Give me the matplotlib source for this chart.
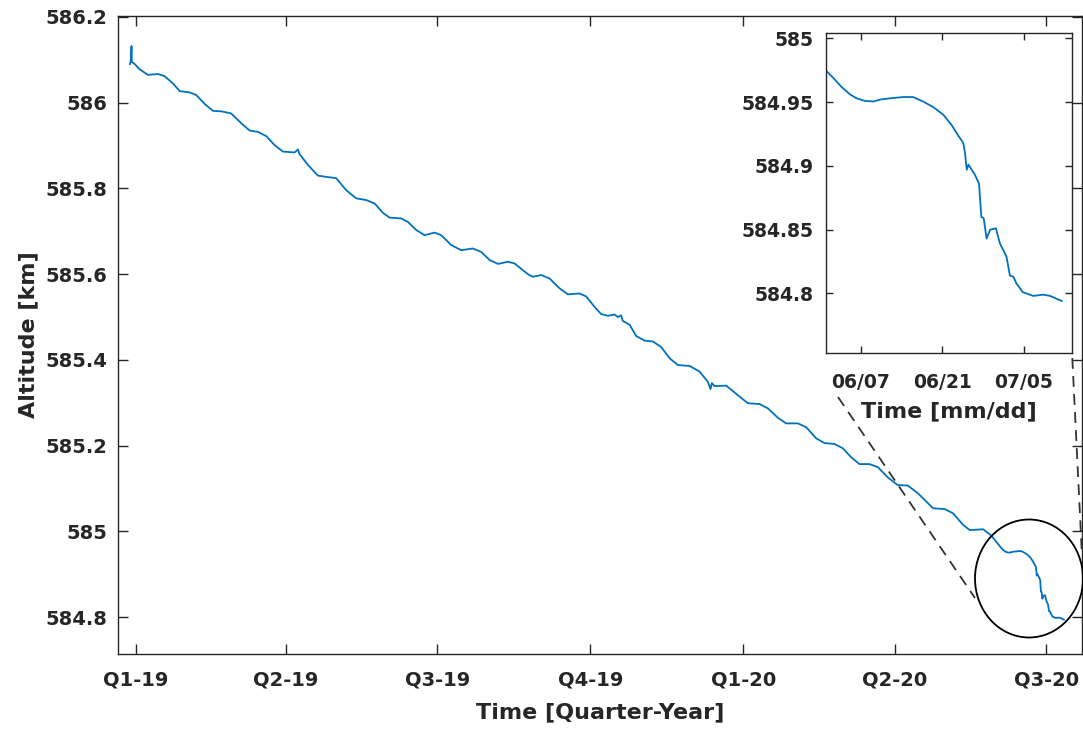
import numpy as np
import matplotlib
matplotlib.use("Agg")
import matplotlib.pyplot as plt
from matplotlib.patches import Ellipse
from matplotlib.lines import Line2D

# Orbit altitude history: days since 2019-01-01 and altitude in km
days = [
    -3.6, -3.0, -2.7, -2.5, -1.2, 2.2, 7.2, 13.2, 17.2, 22.2,
    26.3, 32.3, 36.2, 41.3, 46.3, 51.2, 57.2, 63.3, 68.3, 73.3,
    78.3, 83.3, 88.3, 95.3, 97.3, 98.3, 103.3, 109.3, 114.3, 120.3,
    126.3, 132.3, 138.3, 143.4, 148.4, 152.4, 159.4, 163.4, 168.4, 173.4,
    179.4, 183.4, 189.4, 195.4, 202.4, 207.4, 212.5, 217.5, 223.5, 227.5,
    235.5, 238.5, 243.5, 248.5, 254.5, 259.5, 266.5, 270.5, 275.5, 279.5,
    283.5, 287.6, 289.5, 291.5, 292.5, 296.6, 300.5, 305.6, 310.6, 315.6,
    320.6, 325.6, 332.6, 338.6, 343.6, 345.2, 346.0, 347.6, 354.6, 361.6,
    367.6, 374.7, 379.7, 385.7, 390.6, 397.7, 402.7, 408.7, 413.7, 419.7,
    424.7, 429.7, 434.7, 440.7, 445.7, 451.7, 457.7, 463.7, 469.8, 475.8,
    478.9, 486.0, 491.0, 497.0, 501.0, 509.0, 514.0,
    517.2, 518.3, 519.7, 521.2, 522.3, 523.7, 525.2, 526.3, 528.0, 530.3,
    532.0, 533.7, 535.5, 537.2, 538.6, 539.7, 540.6, 540.9, 541.2, 541.5,
    541.9, 542.6, 543.3, 543.5, 543.7, 544.1, 544.6, 545.2, 546.2, 546.9,
    548.0, 548.6, 549.2, 549.7, 550.8, 552.6, 554.3, 555.5, 557.5,
]
altitude_km = [
    586.090, 586.100, 586.132, 586.095, 586.092, 586.078, 586.065, 586.067, 586.062, 586.045,
    586.027, 586.024, 586.018, 585.997, 585.981, 585.980, 585.975, 585.952, 585.935, 585.932,
    585.922, 585.901, 585.886, 585.884, 585.891, 585.880, 585.855, 585.830, 585.827, 585.824,
    585.796, 585.777, 585.773, 585.765, 585.743, 585.732, 585.730, 585.722, 585.703, 585.691,
    585.697, 585.691, 585.668, 585.656, 585.660, 585.652, 585.633, 585.624, 585.629, 585.625,
    585.600, 585.594, 585.598, 585.590, 585.567, 585.553, 585.555, 585.548, 585.524, 585.507,
    585.503, 585.506, 585.500, 585.504, 585.491, 585.482, 585.456, 585.445, 585.443, 585.430,
    585.404, 585.388, 585.386, 585.373, 585.349, 585.332, 585.346, 585.339, 585.340, 585.318,
    585.299, 585.297, 585.287, 585.265, 585.252, 585.252, 585.243, 585.217, 585.206, 585.204,
    585.194, 585.173, 585.157, 585.157, 585.150, 585.126, 585.108, 585.107, 585.089, 585.066,
    585.054, 585.052, 585.042, 585.015, 585.003, 585.005, 584.990,
    584.974, 584.969, 584.962, 584.956, 584.953, 584.951, 584.9505, 584.952, 584.953, 584.954,
    584.954, 584.9505, 584.946, 584.940, 584.932, 584.924, 584.918, 584.910, 584.897, 584.901,
    584.898, 584.893, 584.886, 584.873, 584.860, 584.859, 584.843, 584.850, 584.851, 584.839,
    584.829, 584.814, 584.813, 584.808, 584.801, 584.798, 584.799, 584.798, 584.794,
]

quarter_ticks = ["2019-01-01", "2019-04-01", "2019-07-01", "2019-10-01",
                 "2020-01-01", "2020-04-01", "2020-07-01"]
quarter_labels = ["Q1-19", "Q2-19", "Q3-19", "Q4-19", "Q1-20", "Q2-20", "Q3-20"]
main_yticks = [584.8, 585.0, 585.2, 585.4, 585.6, 585.8, 586.0, 586.2]
main_ylabels = ["584.8", "585", "585.2", "585.4", "585.6", "585.8", "586", "586.2"]

zoom_ticks = ["2020-06-07", "2020-06-21", "2020-07-05"]
zoom_labels = ["06/07", "06/21", "07/05"]
zoom_yticks = [584.80, 584.85, 584.90, 584.95, 585.00]
zoom_ylabels = ["584.8", "584.85", "584.9", "584.95", "585"]

base = np.datetime64("2019-01-01T00:00")
t = base + (np.array(days) * 24 * 60).round().astype("timedelta64[m]")
alt = np.array(altitude_km)

def day(s, offset_days=0.0):
    return np.datetime64(s + "T00:00") + np.timedelta64(int(round(offset_days * 1440)), "m")

LINE = "#0072BD"
INK = "#262626"
FONT = "DejaVu Sans"

plt.rcParams["font.family"] = FONT
plt.rcParams["font.weight"] = "bold"

fig = plt.figure(figsize=(10.83, 7.29), dpi=100)
ax = fig.add_axes([118 / 1083, 1 - 654 / 729, (1082 - 118) / 1083, (654 - 15.7) / 729])
ax.plot(t, alt, color=LINE, lw=1.3, solid_joinstyle="round")
ax.set_xlim(day("2019-01-01", -10.8), day("2019-01-01", 568.4))
ax.set_ylim(584.714, 586.203)
ax.set_xticks([np.datetime64(q) for q in quarter_ticks])
ax.set_xticklabels(quarter_labels)
ax.set_yticks(main_yticks)
ax.set_yticklabels(main_ylabels)
ax.tick_params(direction="in", top=True, right=True, length=7, width=1.0,
               color=INK, labelcolor=INK, labelsize=14)
ax.tick_params(axis="x", pad=12)
ax.tick_params(axis="y", pad=8)
for s in ax.spines.values():
    s.set_linewidth(1.0)
    s.set_color(INK)
ax.set_xlabel("Time [Quarter-Year]", fontsize=16, fontweight="bold", color=INK, labelpad=9)
ax.set_ylabel("Altitude [km]", fontsize=16, fontweight="bold", color=INK, labelpad=5)

# Zoomed view of the final weeks
axi = fig.add_axes([826 / 1083, 1 - 353.3 / 729, (1071.7 - 826) / 1083, (353.3 - 33.3) / 729])
axi.set_facecolor("white")
axi.plot(t, alt, color=LINE, lw=1.3, solid_joinstyle="round")
axi.set_xlim(day("2020-06-01", 0.05), day("2020-06-01", 42.2))
axi.set_ylim(584.753, 585.004)
axi.set_xticks([np.datetime64(z) for z in zoom_ticks])
axi.set_xticklabels(zoom_labels)
axi.set_yticks(zoom_yticks)
axi.set_yticklabels(zoom_ylabels)
axi.tick_params(direction="in", top=True, right=True, length=5, width=1.0,
                color=INK, labelcolor=INK, labelsize=13.5)
axi.tick_params(axis="x", pad=14)
axi.tick_params(axis="y", pad=9)
for s in axi.spines.values():
    s.set_linewidth(1.0)
    s.set_color(INK)
axi.set_xlabel("Time [mm/dd]", fontsize=16, fontweight="bold", color=INK, labelpad=7)

# Highlight circle and connector lines
fig.add_artist(Ellipse((1029 / 1083, 1 - 578.5 / 729), 108 / 1083, 118 / 729,
                       transform=fig.transFigure, fill=False, ec="black", lw=1.3))
for (x0, y0), (x1, y1) in [((838, 397), (975, 598)), ((1072.3, 358), (1081.7, 550))]:
    fig.add_artist(Line2D([x0 / 1083, x1 / 1083], [1 - y0 / 729, 1 - y1 / 729],
                          transform=fig.transFigure, color="#333333", lw=1.3,
                          linestyle=(0, (6, 4))))

fig.savefig("out.png", dpi=100)
